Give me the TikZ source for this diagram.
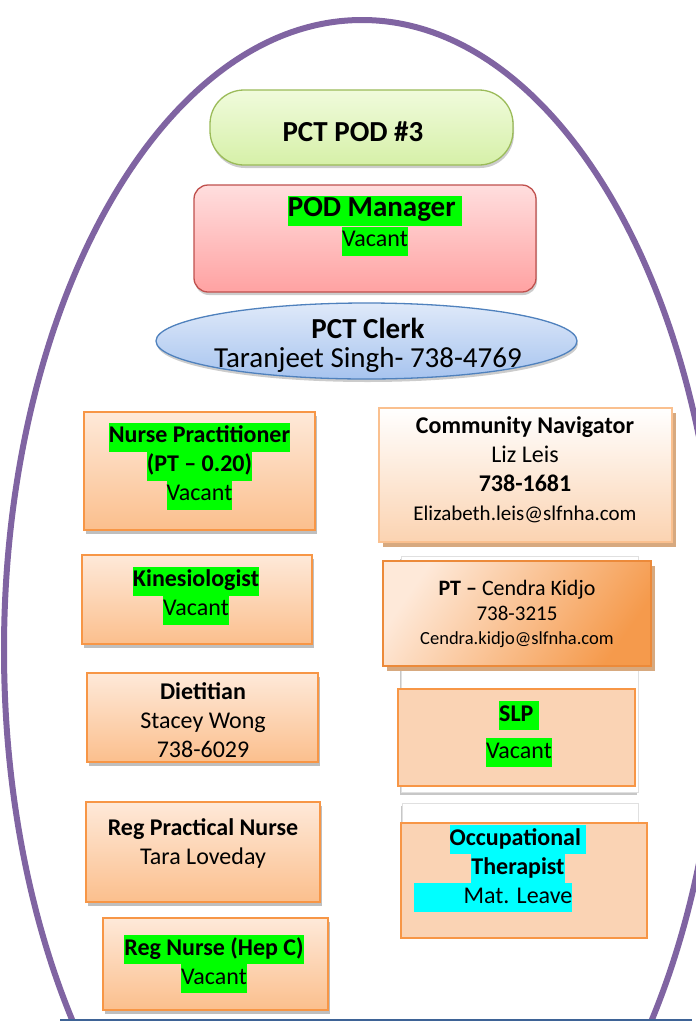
\documentclass[tikz,border=0pt]{standalone}
\usepackage{fontspec}
\setmainfont{Carlito}
\usepackage{tikz}
\usetikzlibrary{shapes.geometric, shadows}

\definecolor{ringpurple}{HTML}{8064A2}
\definecolor{floorblue}{HTML}{3E6396}
\definecolor{hlgreen}{HTML}{00FF00}
\definecolor{hlcyan}{HTML}{00FFFF}
\definecolor{podtop}{HTML}{F0FBDC}
\definecolor{podbot}{HTML}{D6F0A8}
\definecolor{podedge}{HTML}{9BBB59}
\definecolor{mgrtop}{HTML}{FFDEDE}
\definecolor{mgrbot}{HTML}{FFA2A2}
\definecolor{mgredge}{HTML}{C0504D}
\definecolor{clerktop}{HTML}{DFE9F9}
\definecolor{clerkbot}{HTML}{A7C4EF}
\definecolor{clerkedge}{HTML}{4F81BD}
\definecolor{stafftop}{HTML}{FEE9D9}
\definecolor{staffbot}{HTML}{FBBF8D}
\definecolor{staffedge}{HTML}{F79646}
\definecolor{navbot}{HTML}{FBD3B1}
\definecolor{navedge}{HTML}{FAC08F}
\definecolor{navshadow}{HTML}{D7A97F}
\definecolor{ptdark}{HTML}{F59A4C}
\definecolor{ptedge}{HTML}{EC8A3A}
\definecolor{flatfill}{HTML}{FAD3B4}

\setlength{\fboxsep}{0pt}
\newcommand\hlg[1]{\colorbox{hlgreen}{\strut#1}}
\newcommand\hlc[1]{\colorbox{hlcyan}{\strut#1}}
\newcommand\szhead{\fontsize{29}{30}\selectfont}
\newcommand\szbody{\fontsize{24}{29}\selectfont}

\tikzset{%
  every node/.style={inner sep=0pt},
    ring/.style={draw=ringpurple, line width=6pt},
    floorline/.style={draw=floorblue, line width=2pt},
    podbox/.style={%
        rectangle,
        rounded corners=34pt,
        draw=podedge, line width=1.3pt,
        top color=podtop, bottom color=podbot,
        drop shadow={shadow xshift=1pt, shadow yshift=-3pt, fill=black, opacity=.2},
    },
    mgrbox/.style={%
        rectangle,
        rounded corners=14pt,
        draw=mgredge, line width=1.3pt,
        top color=mgrtop, bottom color=mgrbot,
        drop shadow={shadow xshift=1pt, shadow yshift=-3pt, fill=black, opacity=.2},
    },
    clerkbox/.style={%
        ellipse,
        draw=clerkedge, line width=1.3pt,
        top color=clerktop, bottom color=clerkbot,
        drop shadow={shadow xshift=1pt, shadow yshift=-3pt, fill=black, opacity=.2},
    },
    staffbox/.style={%
        rectangle,
        draw=staffedge, line width=1.5pt,
        top color=stafftop, bottom color=staffbot,
        drop shadow={shadow xshift=2pt, shadow yshift=-4pt, fill=black, opacity=.25},
    },
    navbox/.style={%
        rectangle,
        draw=navedge, line width=1.5pt,
        top color=white, bottom color=navbot,
        drop shadow={shadow xshift=4pt, shadow yshift=-5pt, fill=navshadow, opacity=1},
    },
    ptbox/.style={%
        rectangle,
        draw=ptedge, line width=1.3pt,
        top color=stafftop, bottom color=ptdark, shading angle=55,
        drop shadow={shadow xshift=4pt, shadow yshift=-5pt, fill=navshadow, opacity=1},
    },
    flatbox/.style={%
        rectangle,
        draw=staffedge, line width=1.5pt,
        fill=flatfill,
    },
    ghostbox/.style={%
        rectangle,
        fill=white, draw=black!12,
        drop shadow={shadow xshift=-1.5pt, shadow yshift=-3pt, fill=black, opacity=.22},
    },
    lbl/.style={align=center, font=\szbody},
}

\begin{document}
\begin{tikzpicture}[x=1pt, y=-1pt]
	\useasboundingbox (0,0) rectangle (696,1021);
	\fill[white] (0,0) rectangle (696,1021);

	\begin{scope}
		\clip (0,0) rectangle (696,1018);
		\draw[ring] (362,650) ellipse [x radius=358pt, y radius=630pt];
	\end{scope}
	\coordinate (floor_l) at (60,1019.5);
	\coordinate (floor_r) at (692,1019.5);
	\draw[floorline] (floor_l) -- (floor_r);

	% top of the pod
	\node [podbox, minimum width=303pt, minimum height=75pt] (pod) at (361.5,127.5) {};
	\node [lbl, font=\szhead\bfseries] (pod_txt) at (353,132) {PCT POD \#3};

	\node [mgrbox, minimum width=342pt, minimum height=107pt] (mgr) at (365,238.5) {};
	\node [lbl] (mgr_txt) at (375,225.5) {{\szhead\bfseries\hlg{POD Manager\ }}\\\hlg{Vacant}};

	\node [clerkbox, minimum width=421pt, minimum height=76pt] (clerk) at (366.5,341) {};
	\node [lbl, font=\fontsize{29}{29}\selectfont] (clerk_txt) at (368,345.5) {{\bfseries PCT Clerk}\\Taranjeet Singh- 738-4769};

	% left column
	\node [staffbox, minimum width=231pt, minimum height=118pt] (nurse_pr) at (199.5,471) {};
	\node [lbl] (nurse_pr_txt) at (199.5,466) {{\bfseries\hlg{Nurse Practitioner}}\\{\bfseries\hlg{(PT – 0.20)}}\\\hlg{Vacant}};

	\node [staffbox, minimum width=230pt, minimum height=89pt] (kin) at (197,599.5) {};
	\node [lbl] (kin_txt) at (196,595.5) {{\bfseries\hlg{Kinesiologist}}\\\hlg{Vacant}};

	\node [staffbox, minimum width=231pt, minimum height=89pt] (diet) at (202.5,717.5) {};
	\node [lbl] (diet_txt) at (203,720) {{\bfseries Dietitian}\\Stacey Wong\\738-6029};

	\node [staffbox, minimum width=234pt, minimum height=100pt] (rpn) at (203,852) {};
	\node [lbl] (rpn_txt) at (203,843.5) {{\bfseries Reg Practical Nurse}\\Tara Loveday};

	\node [staffbox, minimum width=225pt, minimum height=92pt] (rn) at (215.5,964) {};
	\node [lbl] (rn_txt) at (214,964) {{\bfseries\hlg{Reg Nurse (Hep C)}}\\\hlg{Vacant}};

	% right column
	\node [navbox, minimum width=293pt, minimum height=134pt] (nav) at (525.5,475) {};
	\node [lbl] (nav_txt) at (525,470) {{\bfseries Community Navigator}\\Liz Leis\\{\bfseries 738-1681}\\{\fontsize{21}{25}\selectfont Elizabeth.leis@slfnha.com}};

	\node [ghostbox, minimum width=237pt, minimum height=236pt] (ghost_a) at (519.5,674) {};
	\node [ptbox, minimum width=268pt, minimum height=105pt] (pt) at (517,613.5) {};
	\node [lbl, font=\fontsize{22}{24.5}\selectfont] (pt_txt) at (517,614) {{\bfseries PT –} Cendra Kidjo\\{\fontsize{21}{24.5}\selectfont 738-3215}\\{\fontsize{18.5}{24.5}\selectfont Cendra.kidjo@slfnha.com}};

	\node [flatbox, minimum width=237pt, minimum height=97pt] (slp) at (516.5,737.5) {};
	\node [lbl] (slp_txt) at (519,734) {{\bfseries\hlg{SLP\ }}\\[8pt]\hlg{Vacant}};

	\node [ghostbox, minimum width=236pt, minimum height=109pt] (ghost_b) at (520,857.5) {};
	\node [flatbox, minimum width=246pt, minimum height=115pt] (ot) at (524,880.5) {};
	\node [lbl] (ot_txt) at (518,868.5) {{\bfseries\hlc{Occupational\ }}\\{\bfseries\hlc{Therapist}}\\\makebox[0pt][r]{\hlc{\hspace*{50pt}}}\hlc{Mat. Leave}};
\end{tikzpicture}
\end{document}
